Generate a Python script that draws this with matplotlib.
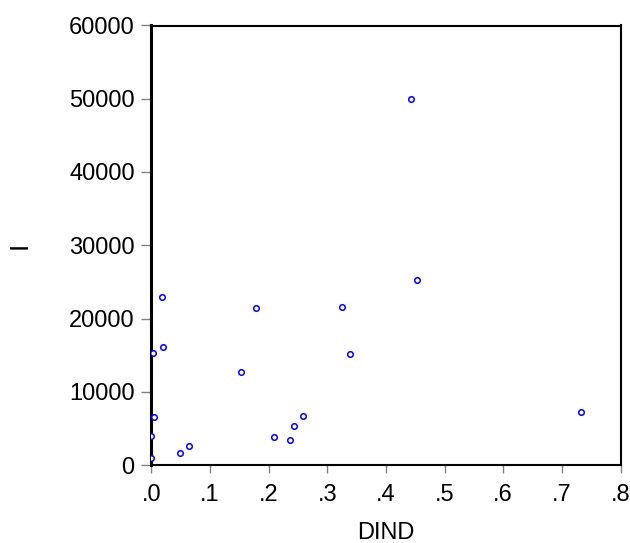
import matplotlib
matplotlib.use("Agg")
import matplotlib.pyplot as plt
from matplotlib.ticker import FixedLocator

plt.rcParams['font.family'] = ['Liberation Sans', 'DejaVu Sans']

# Data
dind = [0.443, 0.453, 0.733, 0.018, 0.179, 0.003, 0.020, 0.153, 0.326, 0.339,
        0.209, 0.236, 0.244, 0.259, 0.004, 0.0, 0.0, 0.049, 0.065]
i_vals = [49950, 25250, 7250, 22900, 21450, 15250, 16150, 12700, 21550, 15100,
          3800, 3450, 5300, 6700, 6500, 4000, 900, 1600, 2650]

x_ticks = [0.0, 0.1, 0.2, 0.3, 0.4, 0.5, 0.6, 0.7, 0.8]
x_tick_labels = ['.0', '.1', '.2', '.3', '.4', '.5', '.6', '.7', '.8']
y_ticks = [0, 10000, 20000, 30000, 40000, 50000, 60000]
y_tick_labels = ['0', '10000', '20000', '30000', '40000', '50000', '60000']

fig = plt.figure(figsize=(6.3, 5.43), dpi=100)
ax = fig.add_axes([151.3 / 630, 1 - 465 / 543, (620.5 - 151.3) / 630, (465 - 25.5) / 543])

ax.plot(dind, i_vals, linestyle='none', marker='o', markersize=4,
        markerfacecolor='white', markeredgecolor='#0000FF', markeredgewidth=1.1,
        clip_on=True, zorder=3)

ax.set_xlim(0, 0.8)
ax.set_ylim(0, 60000)
ax.xaxis.set_major_locator(FixedLocator(x_ticks))
ax.set_xticklabels(x_tick_labels)
ax.yaxis.set_major_locator(FixedLocator(y_ticks))
ax.set_yticklabels(y_tick_labels)

ax.tick_params(axis='both', direction='out', color='#808080', width=1.0,
               labelsize=17, labelcolor='black')
ax.tick_params(axis='y', length=7, pad=5)
ax.tick_params(axis='x', length=6, pad=8)

for side in ['top', 'right', 'bottom']:
    ax.spines[side].set_linewidth(1.5)
    ax.spines[side].set_color('black')
ax.spines['left'].set_linewidth(2.2)
ax.spines['left'].set_color('black')

fig.text(386 / 630, 1 - 533 / 543, 'DIND', fontsize=17, ha='center', va='center')
fig.text(20 / 630, 1 - 245 / 543, 'I', fontsize=19, ha='center', va='center', rotation=90)

fig.savefig('out.png', dpi=100)
